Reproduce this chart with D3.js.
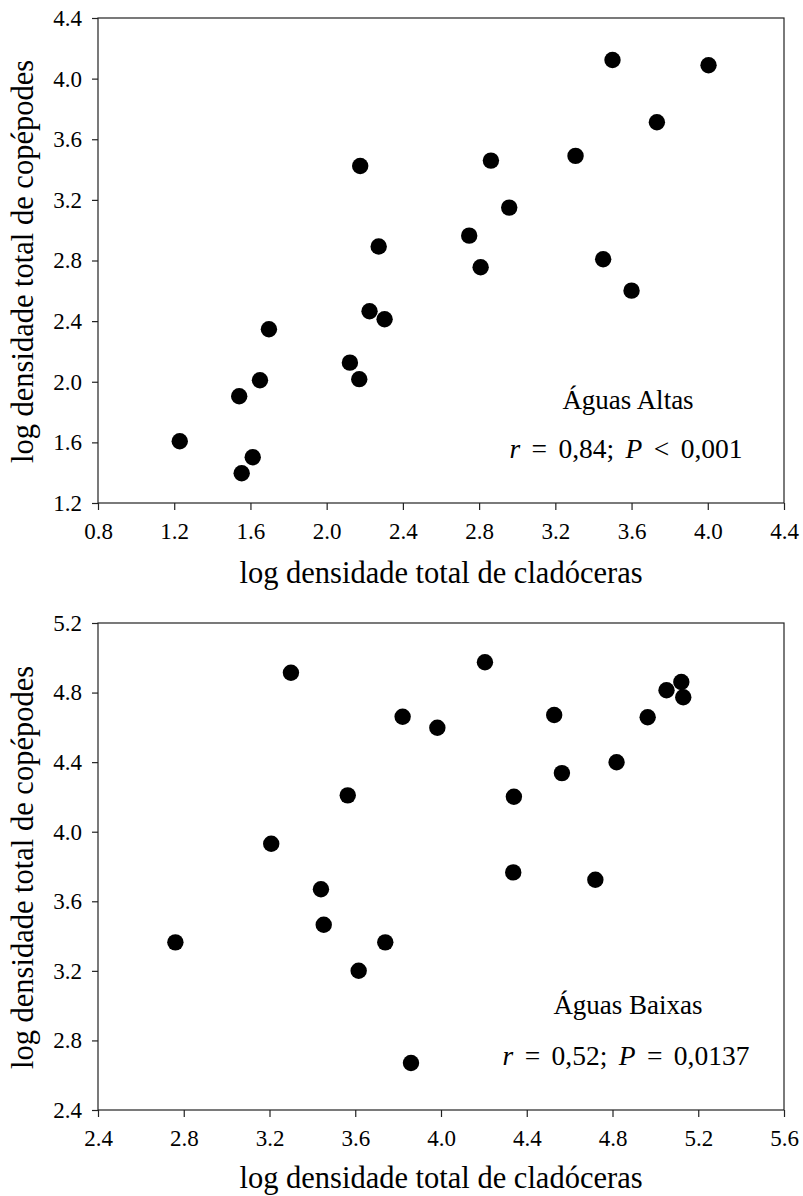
<!DOCTYPE html>
<html>
<head>
<meta charset="utf-8">
<script src="https://cdn.jsdelivr.net/npm/d3@7"></script>
<style>
  html, body { margin: 0; padding: 0; background: #fff; }
  svg { display: block; }
  svg text { font-family: "Liberation Serif", "Times New Roman", Times, serif !important; fill: #000; }
</style>
</head>
<body>
<script>
// ---- Data: Águas Altas (top panel) ----
const altasCladoceras = [1.229, 1.554, 1.541, 1.612, 1.650, 1.697, 2.122, 2.171, 2.176, 2.225, 2.273, 2.304,
                         2.748, 2.808, 2.862, 2.958, 3.306, 3.451, 3.500, 3.600, 3.733, 4.004];
const altasCopepodes  = [1.607, 1.396, 1.904, 1.502, 2.010, 2.346, 2.126, 2.017, 3.424, 2.465, 2.892, 2.412,
                         2.964, 2.755, 3.459, 3.149, 3.490, 2.808, 4.123, 2.601, 3.712, 4.088];

// ---- Data: Águas Baixas (bottom panel) ----
const baixasCladoceras = [2.761, 3.208, 3.300, 3.440, 3.453, 3.565, 3.616, 3.740, 3.821, 3.860, 3.983,
                          4.205, 4.337, 4.340, 4.528, 4.564, 4.720, 4.819, 4.964, 5.052, 5.121, 5.130];
const baixasCopepodes  = [3.364, 3.931, 4.914, 3.669, 3.465, 4.209, 3.201, 3.364, 4.661, 2.670, 4.598,
                          4.974, 3.766, 4.201, 4.671, 4.337, 3.724, 4.399, 4.658, 4.813, 4.861, 4.773];

// ---- Tick labels ----
const altasXTicks = [0.8, 1.2, 1.6, 2.0, 2.4, 2.8, 3.2, 3.6, 4.0, 4.4];
const altasYTicks = [1.2, 1.6, 2.0, 2.4, 2.8, 3.2, 3.6, 4.0, 4.4];
const baixasXTicks = [2.4, 2.8, 3.2, 3.6, 4.0, 4.4, 4.8, 5.2, 5.6];
const baixasYTicks = [2.4, 2.8, 3.2, 3.6, 4.0, 4.4, 4.8, 5.2];

const xTitle = "log densidade total de cladóceras";
const yTitle = "log densidade total de copépodes";

const panels = [
  { x: altasCladoceras, y: altasCopepodes, xTicks: altasXTicks, yTicks: altasYTicks,
    top: 18, bottom: 503, label: "Águas Altas", titleGap: 80,
    stat: [["r", true], [" = 0,84; ", false], ["P", true], [" < 0,001", false]],
    labelY: 409, statY: 458 },
  { x: baixasCladoceras, y: baixasCopepodes, xTicks: baixasXTicks, yTicks: baixasYTicks,
    top: 623, bottom: 1110, label: "Águas Baixas", titleGap: 78,
    stat: [["r", true], [" = 0,52; ", false], ["P", true], [" = 0,0137", false]],
    labelY: 1014, statY: 1065 }
];

const W = 803, H = 1196;
const left = 98, right = 784;
const serif = "'Liberation Serif', 'Times New Roman', Times, serif";

const svg = d3.select("body").append("svg").attr("width", W).attr("height", H);

panels.forEach(p => {
  const xs = d3.scaleLinear().domain(d3.extent(p.xTicks)).range([left, right]);
  const ys = d3.scaleLinear().domain(d3.extent(p.yTicks)).range([p.bottom, p.top]);
  const g = svg.append("g");

  // frame
  g.append("rect").attr("x", left).attr("y", p.top)
    .attr("width", right - left).attr("height", p.bottom - p.top)
    .attr("fill", "none").attr("stroke", "#222").attr("stroke-width", 1.2);

  // x axis
  const xa = g.append("g").attr("transform", `translate(0,${p.bottom})`)
    .call(d3.axisBottom(xs).tickValues(p.xTicks).tickFormat(d3.format(".1f")).tickSizeOuter(0).tickSize(7).tickPadding(13));
  xa.attr("font-family", null).attr("font-size", null);
  xa.select(".domain").remove();
  xa.selectAll("line").attr("stroke", "#222").attr("stroke-width", 1.2);
  xa.selectAll("text").style("font-family", serif).style("font-size", "23px").attr("fill", "#000");

  // y axis
  const ya = g.append("g").attr("transform", `translate(${left},0)`)
    .call(d3.axisLeft(ys).tickValues(p.yTicks).tickFormat(d3.format(".1f")).tickSizeOuter(0).tickSize(6).tickPadding(10));
  ya.attr("font-family", null).attr("font-size", null);
  ya.select(".domain").remove();
  ya.selectAll("line").attr("stroke", "#222").attr("stroke-width", 1.2);
  ya.selectAll("text").style("font-family", serif).style("font-size", "23px").attr("fill", "#000");

  // titles
  g.append("text").attr("x", (left + right) / 2).attr("y", p.bottom + p.titleGap)
    .attr("text-anchor", "middle").style("font-family", serif).style("font-size", "30.5px").text(xTitle);
  g.append("text")
    .attr("transform", `translate(33,${(p.top + p.bottom) / 2 + 1}) rotate(-90)`)
    .attr("text-anchor", "middle").style("font-family", serif).style("font-size", "30.5px").text(yTitle);

  // points
  g.selectAll("circle").data(p.x.map((v, i) => [v, p.y[i]])).join("circle")
    .attr("cx", d => xs(d[0])).attr("cy", d => ys(d[1])).attr("r", 8.2).attr("fill", "#000");

  // annotations
  g.append("text").attr("x", 628).attr("y", p.labelY).attr("text-anchor", "middle")
    .style("font-family", serif).style("font-size", "27px").text(p.label);
  const st = g.append("text").attr("x", 626).attr("y", p.statY).attr("text-anchor", "middle")
    .style("font-family", serif).style("font-size", "27.5px").style("word-spacing", "4.5px")
    .attr("xml:space", "preserve");
  p.stat.forEach(([t, it]) => st.append("tspan").style("font-style", it ? "italic" : "normal").text(t));
});
</script>
</body>
</html>
